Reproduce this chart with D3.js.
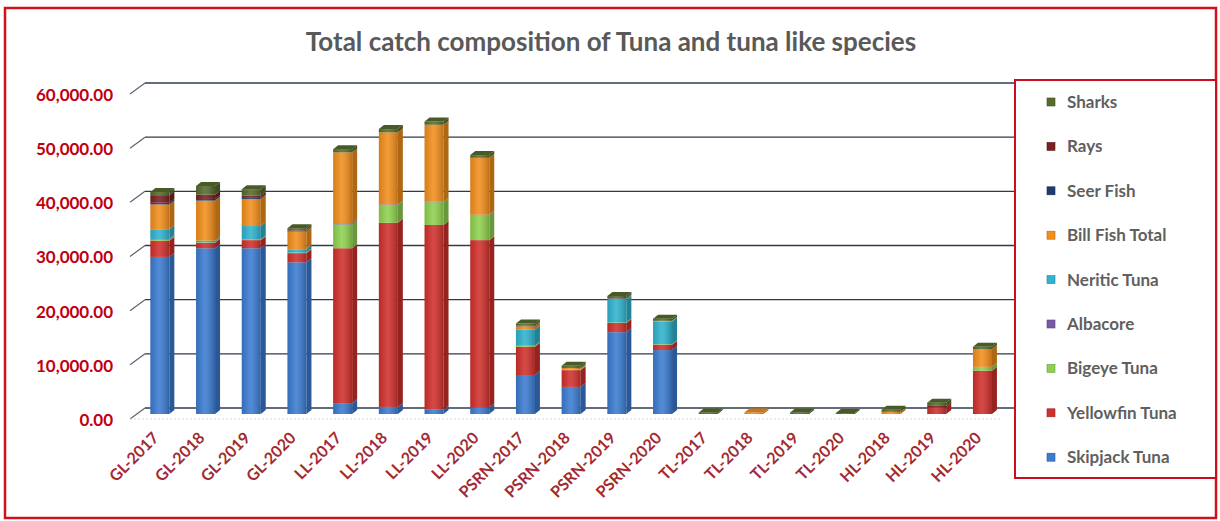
<!DOCTYPE html>
<html>
<head>
<meta charset="utf-8">
<script src="https://cdn.jsdelivr.net/npm/d3@7"></script>
<style>
  html, body { margin: 0; padding: 0; background: #ffffff; }
  svg { display: block; }
  text { font-family: Lato, "Open Sans", "DejaVu Sans", sans-serif; }
</style>
</head>
<body>
<svg id="chart" width="1220" height="521"></svg>
<script>
// ---- data ----
const categories = ["GL-2017","GL-2018","GL-2019","GL-2020","LL-2017","LL-2018","LL-2019","LL-2020",
  "PSRN-2017","PSRN-2018","PSRN-2019","PSRN-2020","TL-2017","TL-2018","TL-2019","TL-2020",
  "HL-2018","HL-2019","HL-2020"];
const seriesNames = ["Skipjack Tuna","Yellowfin Tuna","Bigeye Tuna","Albacore","Neritic Tuna",
  "Bill Fish Total","Seer Fish","Rays","Sharks"];
const skipjack  = [29000,30600,30600,28000, 2000, 1300,  800, 1200, 7200,5000,15100,11800,  0,  0,  0,  0,  0,   0,   0];
const yellowfin = [ 3000, 1000, 1500, 1700,28600,34000,34100,30900, 5200,3100, 1700, 1000,  0,  0,  0,  0,  0,1200,8000];
const bigeye    = [  200,  100,  100,  100, 4400, 3300, 4200, 4600,  200, 100,  100,  100,  0,  0,  0,  0,  0,   0, 700];
const albacore  = [  100,    0,    0,    0,  200,  100,  100,  100,    0,   0,    0,    0,  0,  0,  0,  0,  0,   0,   0];
const neritic   = [ 1800,  300, 2500,  600,    0,    0,    0,    0, 3000,   0, 4200, 4200,  0,  0,  0,  0,  0,   0,   0];
const billfish  = [ 4600, 7400, 5000, 3300,13100,13300,14200,10500,  600, 300,  200,  100,  0,300,  0,  0,400,   0,3300];
const seerfish  = [  300,  300,  200,  100,    0,    0,    0,    0,  100,   0,  100,    0,  0,  0,  0,  0,  0,   0,   0];
const rays      = [ 1400,  800,  400,  100,    0,    0,    0,    0,    0,   0,    0,    0,  0,  0,  0,  0,  0, 300,   0];
const sharks    = [  600, 1600, 1200,  400,  600,  600,  600,  500,  400, 400,  400,  400,300,  0,300,200,400, 600, 400];
const yTicks = [0,10000,20000,30000,40000,50000,60000];
const titleText = "Total catch composition of Tuna and tuna like species";

const seriesValues = [skipjack,yellowfin,bigeye,albacore,neritic,billfish,seerfish,rays,sharks];
const colors = ["#3b7bd0","#d0302c","#8fd14f","#7a5aa6","#2fb3cf","#f28e1c","#1f3b6f","#7a1f22","#566b2c"];

// ---- build table ----
const table = categories.map((c,i) => {
  const row = {cat: c};
  seriesNames.forEach((s,j) => row[s] = seriesValues[j][i]);
  return row;
});
const stack = d3.stack().keys(seriesNames)(table);

const svg = d3.select("#chart");

// outer border
svg.append("rect").attr("x",5).attr("y",8).attr("width",1211).attr("height",510)
  .attr("fill","#ffffff").attr("stroke","#d0101a").attr("stroke-width",2.5);

// title
svg.append("text").attr("x",611).attr("y",51).attr("text-anchor","middle")
  .attr("font-size",26).attr("font-weight","bold").attr("fill","#595959").text(titleText);

const x = d3.scaleBand().domain(categories).range([137, 1005.3]);
const y = d3.scaleLinear().domain([0,60000]).range([414, 89]);

const backDx = 15, backDy = -11;   // floor depth offset
const frontOff = 5;                // front edge below bar face baseline

// gridlines (back wall) + diagonals
const grid = svg.append("g");
yTicks.forEach(v => {
  const yb = y(v) + frontOff + backDy;
  grid.append("line").attr("x1",130).attr("y1",y(v)+frontOff).attr("x2",130+backDx).attr("y2",yb)
    .attr("stroke","#5a6470").attr("stroke-width",1.2);
  grid.append("line").attr("x1",130+backDx).attr("y1",yb).attr("x2",1016).attr("y2",yb)
    .attr("stroke","#2f3b4a").attr("stroke-width",1.3);
});
// front floor edge
svg.append("line").attr("x1",130).attr("y1",y(0)+frontOff).attr("x2",1000).attr("y2",y(0)+frontOff)
  .attr("stroke","#e8d6c0").attr("stroke-width",1).attr("stroke-dasharray","2,2");

// y axis labels via d3 axis
const yAxis = d3.axisLeft(y).tickValues(yTicks).tickFormat(d3.format(",.2f")).tickSize(0).tickPadding(0);
const yg = svg.append("g").attr("transform","translate(113,6)").call(yAxis);
yg.select(".domain").remove();
yg.selectAll("text").attr("font-size",17).attr("font-weight","bold").attr("fill","#c00010")
  .attr("font-family","Lato, 'Open Sans', sans-serif");

// gradient for bar fronts
const defs = svg.append("defs");
const grad = defs.append("linearGradient").attr("id","shine").attr("x1","0").attr("x2","1").attr("y1","0").attr("y2","0");
grad.append("stop").attr("offset","0").attr("stop-color","#000").attr("stop-opacity",0.12);
grad.append("stop").attr("offset","0.45").attr("stop-color","#fff").attr("stop-opacity",0.12);
grad.append("stop").attr("offset","1").attr("stop-color","#000").attr("stop-opacity",0.22);

const bw = 19, dx = 5, dy = 4;
const bars = svg.append("g");
stack.forEach((layer, j) => {
  const col = colors[j];
  const dark = d3.color(col).darker(0.9);
  layer.forEach((d, i) => {
    if (d[1] - d[0] <= 0) return;
    const cx = x(categories[i]) + x.bandwidth()/2;
    const x0 = cx - bw/2, x1 = cx + bw/2;
    const yt = y(d[1]), yb = y(d[0]);
    bars.append("polygon")
      .attr("points", [[x1,yb],[x1+dx,yb-dy],[x1+dx,yt-dy],[x1,yt]].map(p=>p.join(",")).join(" "))
      .attr("fill", dark);
    bars.append("rect").attr("x",x0).attr("y",yt).attr("width",bw).attr("height",Math.max(0,yb-yt)).attr("fill",col);
    bars.append("rect").attr("x",x0).attr("y",yt).attr("width",bw).attr("height",Math.max(0,yb-yt)).attr("fill","url(#shine)");
  });
});
// top faces
categories.forEach((c,i) => {
  let topJ = -1;
  stack.forEach((layer,j) => { if (layer[i][1]-layer[i][0] > 0) topJ = j; });
  if (topJ < 0) return;
  const cx = x(c) + x.bandwidth()/2;
  const x0 = cx - bw/2, x1 = cx + bw/2;
  const yt = y(stack[topJ][i][1]);
  bars.append("polygon")
    .attr("points", [[x0,yt],[x0+dx,yt-dy],[x1+dx,yt-dy],[x1,yt]].map(p=>p.join(",")).join(" "))
    .attr("fill", d3.color(colors[topJ]).darker(0.5));
});

// x axis labels
const xAxis = d3.axisBottom(x).tickSize(0).tickPadding(0);
const xg = svg.append("g").attr("transform","translate(0,435)").call(xAxis);
xg.select(".domain").remove();
xg.selectAll("text")
  .attr("font-size",16).attr("font-weight","bold").attr("fill","#a32a30")
  .attr("font-family","Lato, 'Open Sans', sans-serif")
  .attr("text-anchor","end").attr("dy","0.35em").attr("y",0).attr("dx","0")
  .attr("transform","translate(-4,0) rotate(-45)");

// legend
const lg = svg.append("g");
lg.append("rect").attr("x",1015).attr("y",80).attr("width",201).attr("height",398)
  .attr("fill","#ffffff").attr("stroke","#c8101c").attr("stroke-width",2);
const legendOrder = seriesNames.slice().reverse();
legendOrder.forEach((s,k) => {
  const j = seriesNames.indexOf(s);
  const yy = 102 + k*44.4;
  lg.append("rect").attr("x",1047).attr("y",yy-4).attr("width",8).attr("height",8)
    .attr("fill",colors[j]).attr("stroke",d3.color(colors[j]).darker(0.8)).attr("stroke-width",0.6);
  lg.append("text").attr("x",1067).attr("y",yy).attr("dy","0.35em")
    .attr("font-size",17).attr("font-weight","bold").attr("fill","#5f5f5f").text(s);
});
</script>
</body>
</html>
